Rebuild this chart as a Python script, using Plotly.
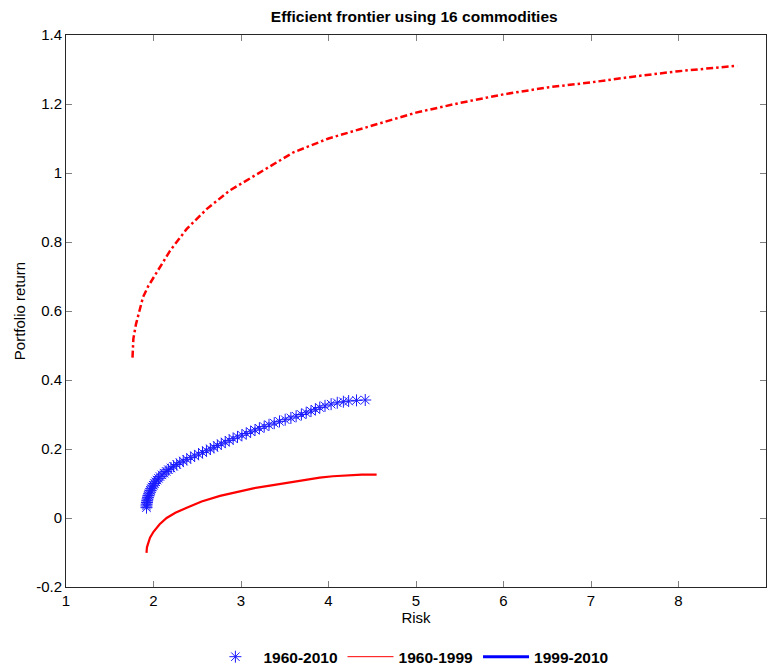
import plotly.graph_objects as go

# 1960-2010 frontier (asterisks)
risk_all = [1.920, 1.920, 1.922, 1.925, 1.928, 1.932, 1.937, 1.943, 1.950, 1.957,
            1.965, 1.975, 1.985, 1.997, 2.010, 2.025, 2.040, 2.057, 2.075, 2.097,
            2.120, 2.145, 2.170, 2.200, 2.230, 2.265, 2.300, 2.340, 2.380, 2.425,
            2.470, 2.515, 2.560, 2.605, 2.650, 2.690, 2.730, 2.775, 2.820, 2.865,
            2.910, 2.960, 3.010, 3.060, 3.110, 3.160, 3.210, 3.265, 3.320, 3.380,
            3.440, 3.505, 3.570, 3.630, 3.690, 3.745, 3.800, 3.850, 3.900, 3.960,
            4.030, 4.100, 4.170, 4.230, 4.320, 4.420]
ret_all = [0.030, 0.035, 0.040, 0.045, 0.050, 0.055, 0.060, 0.065, 0.070, 0.075,
           0.080, 0.085, 0.090, 0.095, 0.100, 0.105, 0.110, 0.115, 0.120, 0.125,
           0.130, 0.135, 0.140, 0.145, 0.150, 0.155, 0.160, 0.165, 0.170, 0.175,
           0.180, 0.185, 0.190, 0.195, 0.200, 0.205, 0.210, 0.215, 0.220, 0.225,
           0.230, 0.235, 0.240, 0.245, 0.250, 0.255, 0.260, 0.265, 0.270, 0.275,
           0.280, 0.285, 0.290, 0.295, 0.300, 0.305, 0.310, 0.315, 0.320, 0.325,
           0.330, 0.334, 0.337, 0.339, 0.341, 0.342]

# 1960-1999 frontier (solid red)
risk_early = [1.920, 1.925, 1.940, 1.960, 2.000, 2.070, 2.150, 2.250, 2.380, 2.550,
              2.760, 2.950, 3.140, 3.330, 3.520, 3.700, 3.900, 4.050, 4.210, 4.380, 4.550]
ret_early = [-0.101, -0.085, -0.073, -0.057, -0.040, -0.018, 0.000, 0.015, 0.030, 0.048,
             0.064, 0.076, 0.086, 0.094, 0.102, 0.110, 0.117, 0.121, 0.124, 0.126, 0.126]

# 1999-2010 frontier (red dash-dot)
risk_late = [1.760, 1.770, 1.800, 1.840, 1.880, 1.940, 2.000, 2.100, 2.190, 2.380,
             2.610, 2.870, 3.220, 3.600, 4.000, 4.590, 5.000, 5.500, 6.000, 6.500,
             7.010, 7.500, 8.000, 8.670]
ret_late = [0.465, 0.520, 0.562, 0.605, 0.640, 0.672, 0.697, 0.740, 0.775, 0.838,
            0.896, 0.949, 1.002, 1.060, 1.100, 1.145, 1.175, 1.203, 1.228, 1.248,
            1.263, 1.280, 1.295, 1.311]

x_ticks = [1, 2, 3, 4, 5, 6, 7, 8, 9]
y_ticks = [-0.2, 0, 0.2, 0.4, 0.6, 0.8, 1, 1.2, 1.4]
y_tick_labels = ["-0.2", "0", "0.2", "0.4", "0.6", "0.8", "1", "1.2", "1.4"]

FONT = "Liberation Sans, Arial, sans-serif"

fig = go.Figure()

fig.add_trace(go.Scatter(
    x=risk_late, y=ret_late, mode="lines",
    line=dict(color="#ff0000", width=2.5, dash="7px,3px,2.5px,3px"),
    showlegend=False, name="1999-2010"))
fig.add_trace(go.Scatter(
    x=risk_early, y=ret_early, mode="lines",
    line=dict(color="#ff0000", width=2.2),
    showlegend=False, name="1960-1999"))
fig.add_trace(go.Scatter(
    x=risk_all, y=ret_all, mode="markers",
    marker=dict(symbol="asterisk-open", size=10, color="#1a1aff",
                line=dict(color="#1a1aff", width=1)),
    name="1960-2010"))

# legend entries as shown in the reference
fig.add_trace(go.Scatter(x=[None], y=[None], mode="lines",
                         line=dict(color="#ff0000", width=1), name="1960-1999"))
fig.add_trace(go.Scatter(x=[None], y=[None], mode="lines",
                         line=dict(color="#0000ff", width=3), name="1999-2010"))

axis_common = dict(
    showgrid=False, zeroline=False, showline=True, linecolor="#262626",
    linewidth=1, mirror="allticks", ticks="inside", ticklen=6, automargin=False,
    tickcolor="#808080", tickfont=dict(family=FONT, size=15, color="#000000"),
)

fig.update_layout(
    width=770, height=668,
    margin=dict(l=66, r=4, t=35, b=81, autoexpand=False),
    paper_bgcolor="white", plot_bgcolor="white",
    title=dict(text="<b>Efficient frontier using 16 commodities</b>",
               x=0.538, xanchor="center", y=0.975, yanchor="middle",
               font=dict(family=FONT, size=15.5, color="#000000")),
    xaxis=dict(range=[1, 9], tickvals=x_ticks, ticktext=[str(v) for v in x_ticks],
               title=dict(text="Risk", font=dict(family=FONT, size=15, color="#000000"),
                          standoff=0),
               **axis_common),
    yaxis=dict(range=[-0.2, 1.4], tickvals=y_ticks, ticktext=y_tick_labels,
               title=dict(text="Portfolio return", font=dict(family=FONT, size=15, color="#000000"),
                          standoff=6),
               **axis_common),
    legend=dict(orientation="h", x=0.492, xanchor="center", y=-0.127, yanchor="middle",
                font=dict(family=FONT, size=15.5, color="#000000", weight="bold"),
                itemwidth=46, bgcolor="rgba(0,0,0,0)"),
)

post = (
    "var s=document.createElement('style');"
    "s.textContent='html,body{margin:0;padding:0;overflow:hidden;width:770px;height:668px;}';"
    "document.head.appendChild(s);"
)

fig.write_html("out.html", config={"displayModeBar": False}, post_script=post)
